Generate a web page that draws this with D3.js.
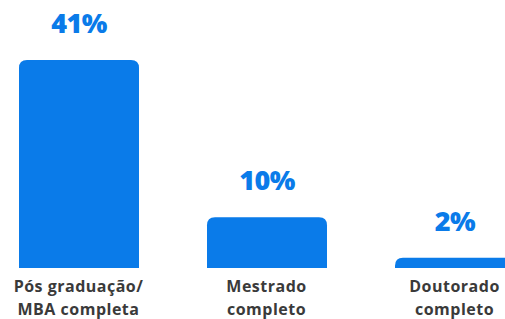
<!DOCTYPE html>
<html><head><meta charset="utf-8">
<script src="https://cdn.jsdelivr.net/npm/d3@7"></script>
<style>html,body{margin:0;padding:0;background:#fff;overflow:hidden}</style>
</head><body><svg id="c" width="505" height="319"></svg>
<script>
const categories = [["Pós graduação/", "MBA completa"], ["Mestrado", "completo"], ["Doutorado", "completo"]];
const values = [41, 10, 2];
const valueLabels = ["41%", "10%", "2%"];

const svg = d3.select("#c");
const baseY = 268;
const xs = d3.scalePoint().domain(d3.range(values.length)).range([19, 19 + 188 * 2]);
const bw = 120;
const y = d3.scaleLinear().domain([0, 41]).range([baseY, 60]);
const blue = "#0a7be9";
const r = 8;

function topRounded(x0, y0, w, h) {
  const rr = Math.min(r, h, w / 2);
  return `M${x0},${y0 + h}V${y0 + rr}Q${x0},${y0} ${x0 + rr},${y0}H${x0 + w - rr}Q${x0 + w},${y0} ${x0 + w},${y0 + rr}V${y0 + h}Z`;
}

svg.selectAll("path.bar").data(values).join("path")
  .attr("class", "bar")
  .attr("fill", blue)
  .attr("d", (d, i) => topRounded(xs(i), y(d), bw, baseY - y(d)));

svg.selectAll("text.val").data(values).join("text")
  .attr("class", "val")
  .attr("x", (d, i) => xs(i) + bw / 2)
  .attr("y", d => y(d) - 27)
  .attr("text-anchor", "middle")
  .attr("fill", blue)
  .style("font-family", "'Open Sans', sans-serif")
  .style("font-weight", "800")
  .style("font-size", "27px")
  .style("letter-spacing", "-0.5px")
  .text((d, i) => valueLabels[i]);

const cat = svg.selectAll("text.cat").data(categories).join("text")
  .attr("class", "cat")
  .attr("text-anchor", "middle")
  .attr("fill", "#3a3a3a")
  .style("font-family", "'Open Sans', sans-serif")
  .style("font-weight", "700")
  .style("font-size", "16px")
  .style("letter-spacing", "0.5px");
cat.each(function (d, i) {
  const t = d3.select(this);
  d.forEach((line, j) => {
    t.append("tspan").attr("x", xs(i) + bw / 2 - 0.5).attr("y", 292 + j * 23).text(line);
  });
});
</script></body></html>
